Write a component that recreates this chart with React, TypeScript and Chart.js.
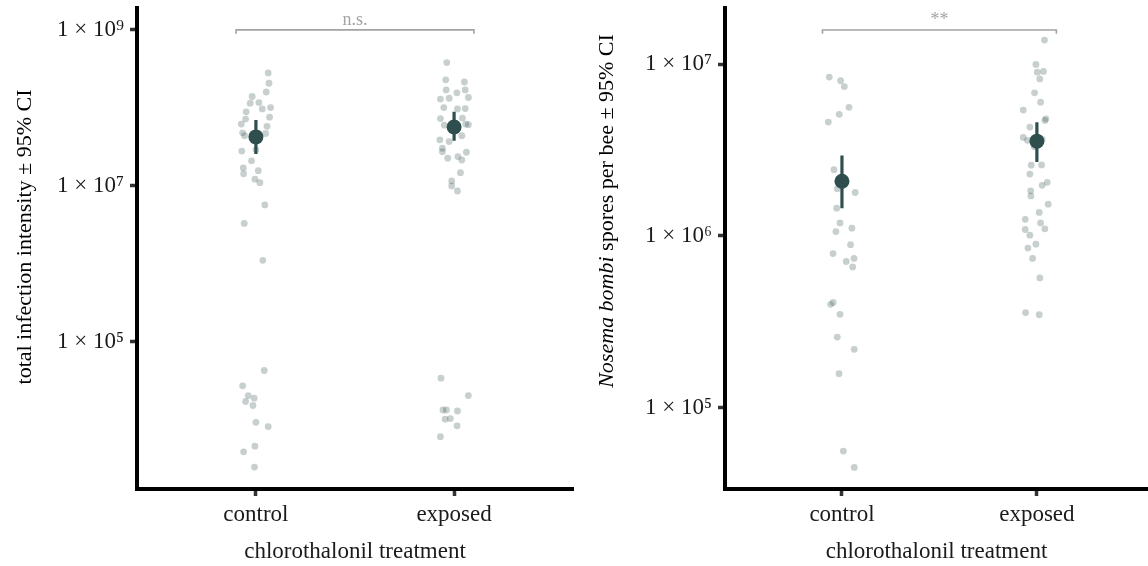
import React, { useEffect, useRef } from "react";
import { Chart, registerables } from "chart.js";

Chart.register(...registerables);

// ---------- shared ----------
const CATEGORIES = ["control", "exposed"];
const X_TITLE = "chlorothalonil treatment";

// ---------- panel A: total infection intensity ----------
const A_CONTROL_VALUES = [
  2.81e8, 2.07e8, 1.6e8, 1.4e8, 1.15e8, 1.17e8, 9.7e7, 1.01e8, 8.9e7, 7.2e7,
  7.6e7, 6.2e7, 5.8e7, 4.8e7, 4.4e7, 4.7e7, 2.8e7, 2.9e7, 2.1e7, 1.7e7,
  1.43e7, 1.57e7, 1.22e7, 1.1e7, 5.7e6, 3.3e6, 1.11e6, 4.3e4, 2.73e4, 2.05e4,
  1.9e4, 1.72e4, 1.53e4, 9.3e3, 8.2e3, 4.6e3, 3.9e3, 2.48e3,
];
const A_CONTROL_JITTER = [
  0.062, 0.066, 0.052, -0.019, -0.029, 0.015, 0.032, 0.074, -0.049, -0.052,
  0.069, -0.074, 0.056, -0.067, -0.057, 0.049, -0.071, 0.0, -0.022, -0.064,
  -0.062, 0.012, -0.005, 0.02, 0.045, -0.059, 0.035, 0.042, -0.067, -0.039,
  -0.009, -0.052, -0.015, 0.0, 0.062, -0.005, -0.062, -0.007,
];
const A_EXPOSED_VALUES = [
  3.81e8, 2.29e8, 2.15e8, 1.7e8, 1.7e8, 1.56e8, 1.3e8, 1.33e8, 1.36e8, 1.01e8,
  9.7e7, 9.8e7, 7.3e7, 7.4e7, 6.0e7, 6.1e7, 6.2e7, 4.4e7, 3.9e7, 3.7e7,
  3.04e7, 2.75e7, 2.7e7, 2.27e7, 2.38e7, 2.15e7, 1.48e7, 1.16e7, 1.0e7, 8.6e6,
  3.43e4, 2.05e4, 1.34e4, 1.34e4, 1.3e4, 1.02e4, 1.04e4, 8.4e3, 6.1e3,
];
const A_EXPOSED_JITTER = [
  -0.037, -0.042, 0.052, -0.04, 0.056, 0.014, -0.069, -0.025, 0.072, -0.052,
  0.017, 0.056, -0.069, 0.042, -0.049, 0.072, 0.059, 0.039, -0.072, -0.025,
  -0.059, -0.059, 0.062, -0.032, 0.019, 0.039, 0.032, -0.012, -0.012, 0.017,
  -0.066, 0.072, -0.056, -0.039, 0.017, -0.045, -0.019, 0.015, -0.069,
];
const A_MEANS = [4.25e7, 5.7e7];
const A_CI_LOW = [2.57e7, 3.78e7];
const A_CI_HIGH = [7.0e7, 8.9e7];
const A_Y_TICKS = [1e5, 1e7, 1e9];
const A_Y_TICK_LABELS = ["1 × 10⁵", "1 × 10⁷", "1 × 10⁹"];
const A_Y_RANGE = [1.3e3, 1.91e9];
const A_BRACKET_Y = [8.9e8, 1e9]; // tip, top
const A_SIGNIF = "n.s.";
const A_Y_TITLE = [{ text: "total infection intensity ± 95% CI", italic: false }];

// ---------- panel B: Nosema bombi spores ----------
const B_CONTROL_VALUES = [
  8.4e6, 8.0e6, 7.4e6, 5.6e6, 5.1e6, 4.6e6, 2.43e6, 1.88e6, 1.79e6, 1.45e6,
  1.19e6, 1.06e6, 1.11e6, 8.9e5, 7.9e5, 7.4e5, 7.1e5, 6.6e5, 4.0e5, 4.1e5,
  3.5e5, 2.58e5, 2.19e5, 1.58e5, 5.6e4, 4.5e4,
];
const B_CONTROL_JITTER = [
  -0.065, -0.007, 0.012, 0.036, -0.014, -0.07, -0.041, -0.024, 0.068, -0.027,
  -0.01, -0.031, 0.051, 0.044, -0.046, 0.062, 0.022, 0.055, -0.058, -0.045,
  -0.01, -0.024, 0.063, -0.015, 0.007, 0.063,
];
const B_EXPOSED_VALUES = [
  1.38e7, 9.96e6, 8.97e6, 9.06e6, 8.2e6, 6.8e6, 6.0e6, 5.4e6, 4.8e6, 4.7e6,
  4.3e6, 3.74e6, 3.6e6, 3.64e6, 3.3e6, 2.58e6, 2.59e6, 2.29e6, 2.05e6, 1.97e6,
  1.83e6, 1.71e6, 1.53e6, 1.37e6, 1.25e6, 1.19e6, 1.09e6, 1.1e6, 1.01e6, 8.96e5,
  8.5e5, 7.4e5, 5.7e5, 3.58e5, 3.48e5,
];
const B_EXPOSED_JITTER = [
  0.039, -0.005, 0.002, 0.034, 0.015, -0.012, 0.019, -0.07, 0.046, 0.041,
  -0.036, -0.07, -0.048, 0.027, -0.014, -0.029, 0.024, -0.036, 0.053, 0.027,
  -0.032, -0.031, 0.058, 0.012, -0.06, 0.019, -0.06, 0.041, -0.036, -0.005,
  -0.046, -0.022, 0.015, -0.058, 0.012,
];
const B_MEANS = [2.08e6, 3.56e6];
const B_CI_LOW = [1.45e6, 2.69e6];
const B_CI_HIGH = [2.94e6, 4.59e6];
const B_Y_TICKS = [1e5, 1e6, 1e7];
const B_Y_TICK_LABELS = ["1 × 10⁵", "1 × 10⁶", "1 × 10⁷"];
const B_Y_RANGE = [3.37e4, 2.12e7];
const B_BRACKET_Y = [1.5e7, 1.58e7];
const B_SIGNIF = "**";
const B_Y_TITLE = [
  { text: "Nosema bombi", italic: true },
  { text: " spores per bee ± 95% CI", italic: false },
];

// ---------- style ----------
const SERIF = "'Liberation Serif', 'Times New Roman', Times, serif";
const DARK = "#2F4F4F";
const JITTER_COLOR = "rgba(47,79,79,0.27)";
const BRACKET_COLOR = "#a3a3a3";

type Seg = { text: string; italic: boolean };
type Panel = {
  control: number[];
  controlJitter: number[];
  exposed: number[];
  exposedJitter: number[];
  means: number[];
  ciLow: number[];
  ciHigh: number[];
  yTicks: number[];
  yTickLabels: string[];
  yRange: number[];
  bracketY: number[];
  signif: string;
  yTitle: Seg[];
  xMax: number;
  yAxisWidth: number;
  paddingRight: number;
  titleCenterX: number;
  titleCenterY: number;
};

const PANEL_A: Panel = {
  control: A_CONTROL_VALUES,
  controlJitter: A_CONTROL_JITTER,
  exposed: A_EXPOSED_VALUES,
  exposedJitter: A_EXPOSED_JITTER,
  means: A_MEANS,
  ciLow: A_CI_LOW,
  ciHigh: A_CI_HIGH,
  yTicks: A_Y_TICKS,
  yTickLabels: A_Y_TICK_LABELS,
  yRange: A_Y_RANGE,
  bracketY: A_BRACKET_Y,
  signif: A_SIGNIF,
  yTitle: A_Y_TITLE,
  xMax: 2.6,
  yAxisWidth: 137,
  paddingRight: 27,
  titleCenterX: 25,
  titleCenterY: 237,
};

const PANEL_B: Panel = {
  control: B_CONTROL_VALUES,
  controlJitter: B_CONTROL_JITTER,
  exposed: B_EXPOSED_VALUES,
  exposedJitter: B_EXPOSED_JITTER,
  means: B_MEANS,
  ciLow: B_CI_LOW,
  ciHigh: B_CI_HIGH,
  yTicks: B_Y_TICKS,
  yTickLabels: B_Y_TICK_LABELS,
  yRange: B_Y_RANGE,
  bracketY: B_BRACKET_Y,
  signif: B_SIGNIF,
  yTitle: B_Y_TITLE,
  xMax: 2.57,
  yAxisWidth: 145,
  paddingRight: 0,
  titleCenterX: 27,
  titleCenterY: 211,
};

function buildConfig(p: Panel): any {
  const jitterPts = (vals: number[], jit: number[], cat: number) =>
    vals.map((v, i) => ({ x: cat + jit[i], y: v }));

  const errorBars = [
    { x: 1, y: p.ciLow[0] },
    { x: 1, y: p.ciHigh[0] },
    { x: 1.5, y: null },
    { x: 2, y: p.ciLow[1] },
    { x: 2, y: p.ciHigh[1] },
  ];
  const bracket = [
    { x: 0.9, y: p.bracketY[0] },
    { x: 0.9, y: p.bracketY[1] },
    { x: 2.1, y: p.bracketY[1] },
    { x: 2.1, y: p.bracketY[0] },
  ];

  const annotate = {
    id: "annotate",
    afterDraw(chart: any) {
      const ctx = chart.ctx;
      const xs = chart.scales.x;
      const ys = chart.scales.y;
      // significance label
      ctx.save();
      ctx.font = `18px ${SERIF}`;
      ctx.fillStyle = BRACKET_COLOR;
      ctx.textAlign = "center";
      ctx.textBaseline = "alphabetic";
      ctx.fillText(p.signif, xs.getPixelForValue(1.5), ys.getPixelForValue(p.bracketY[1]) - 5);
      ctx.restore();

      // y-axis title (rich text, rotated)
      ctx.save();
      const fontFor = (s: Seg) => `${s.italic ? "italic " : ""}22px ${SERIF}`;
      let total = 0;
      const widths = p.yTitle.map((s) => {
        ctx.font = fontFor(s);
        const w = ctx.measureText(s.text).width;
        total += w;
        return w;
      });
      ctx.translate(p.titleCenterX, p.titleCenterY);
      ctx.rotate(-Math.PI / 2);
      ctx.fillStyle = "#000";
      ctx.textAlign = "left";
      ctx.textBaseline = "middle";
      let pos = -total / 2;
      p.yTitle.forEach((s, i) => {
        ctx.font = fontFor(s);
        ctx.fillText(s.text, pos, 0);
        pos += widths[i];
      });
      ctx.restore();
    },
  };

  return {
    type: "scatter",
    data: {
      datasets: [
        {
          label: "mean",
          data: [
            { x: 1, y: p.means[0] },
            { x: 2, y: p.means[1] },
          ],
          backgroundColor: DARK,
          borderWidth: 0,
          pointRadius: 7.5,
          order: 0,
        },
        {
          label: "95% CI",
          type: "line",
          data: errorBars,
          borderColor: DARK,
          borderWidth: 3.2,
          pointRadius: 0,
          spanGaps: false,
          fill: false,
          order: 1,
        },
        {
          label: "control",
          data: jitterPts(p.control, p.controlJitter, 1),
          backgroundColor: JITTER_COLOR,
          borderWidth: 0,
          pointRadius: 3.4,
          order: 2,
        },
        {
          label: "exposed",
          data: jitterPts(p.exposed, p.exposedJitter, 2),
          backgroundColor: JITTER_COLOR,
          borderWidth: 0,
          pointRadius: 3.4,
          order: 3,
        },
        {
          label: "bracket",
          type: "line",
          data: bracket,
          borderColor: BRACKET_COLOR,
          borderWidth: 1.6,
          pointRadius: 0,
          fill: false,
          order: 4,
        },
      ],
    },
    options: {
      responsive: false,
      animation: false,
      events: [],
      layout: {
        autoPadding: false,
        padding: { top: 8, right: p.paddingRight, bottom: 0, left: 0 },
      },
      plugins: {
        legend: { display: false },
        tooltip: { enabled: false },
      },
      scales: {
        x: {
          type: "linear",
          min: 0.4,
          max: p.xMax,
          afterBuildTicks: (scale: any) => {
            scale.ticks = [1, 2].map((v) => ({ value: v }));
          },
          afterFit: (scale: any) => {
            scale.height = 77;
            scale.paddingLeft = 0;
            scale.paddingRight = 0;
          },
          ticks: {
            callback: (v: any) => CATEGORIES[Math.round(v) - 1] ?? "",
            font: { family: SERIF, size: 23 },
            color: "#1a1a1a",
            padding: 5,
            maxRotation: 0,
            autoSkip: false,
          },
          grid: {
            display: true,
            drawOnChartArea: false,
            drawTicks: true,
            tickLength: 7,
            tickColor: "#333",
            tickWidth: 3.5,
          },
          border: { display: true, color: "#000", width: 4 },
          title: {
            display: true,
            text: X_TITLE,
            font: { family: SERIF, size: 23, lineHeight: 1.2 },
            color: "#1a1a1a",
            padding: { top: 0, bottom: 0 },
          },
        },
        y: {
          type: "logarithmic",
          min: p.yRange[0],
          max: p.yRange[1],
          afterBuildTicks: (scale: any) => {
            scale.ticks = p.yTicks.map((v) => ({ value: v }));
          },
          afterFit: (scale: any) => {
            scale.width = p.yAxisWidth;
            scale.paddingTop = 0;
            scale.paddingBottom = 0;
          },
          ticks: {
            callback: (v: any) => {
              const i = p.yTicks.findIndex((t) => Math.abs(t - v) / t < 1e-6);
              return i >= 0 ? p.yTickLabels[i] : "";
            },
            font: { family: SERIF, size: 23 },
            color: "#1a1a1a",
            padding: 6,
            autoSkip: false,
          },
          grid: {
            display: true,
            drawOnChartArea: false,
            drawTicks: true,
            tickLength: 7,
            tickColor: "#333",
            tickWidth: 3.5,
          },
          border: { display: true, color: "#000", width: 4 },
          title: { display: false },
        },
      },
    },
    plugins: [annotate],
  };
}

function PanelChart({ panel, width }: { panel: Panel; width: number }) {
  const ref = useRef<HTMLCanvasElement | null>(null);
  useEffect(() => {
    if (!ref.current) return;
    const chart = new Chart(ref.current, buildConfig(panel));
    return () => chart.destroy();
  }, [panel]);
  return <canvas ref={ref} width={width} height={566} style={{ display: "block" }} />;
}

export default function App() {
  return (
    <div
      style={{
        position: "fixed",
        left: 0,
        top: 0,
        width: 1148,
        height: 566,
        background: "#fff",
        overflow: "hidden",
      }}
    >
      <div style={{ position: "absolute", left: 0, top: 0, width: 600, height: 566 }}>
        <PanelChart panel={PANEL_A} width={600} />
      </div>
      <div style={{ position: "absolute", left: 580, top: 0, width: 568, height: 566 }}>
        <PanelChart panel={PANEL_B} width={568} />
      </div>
    </div>
  );
}
